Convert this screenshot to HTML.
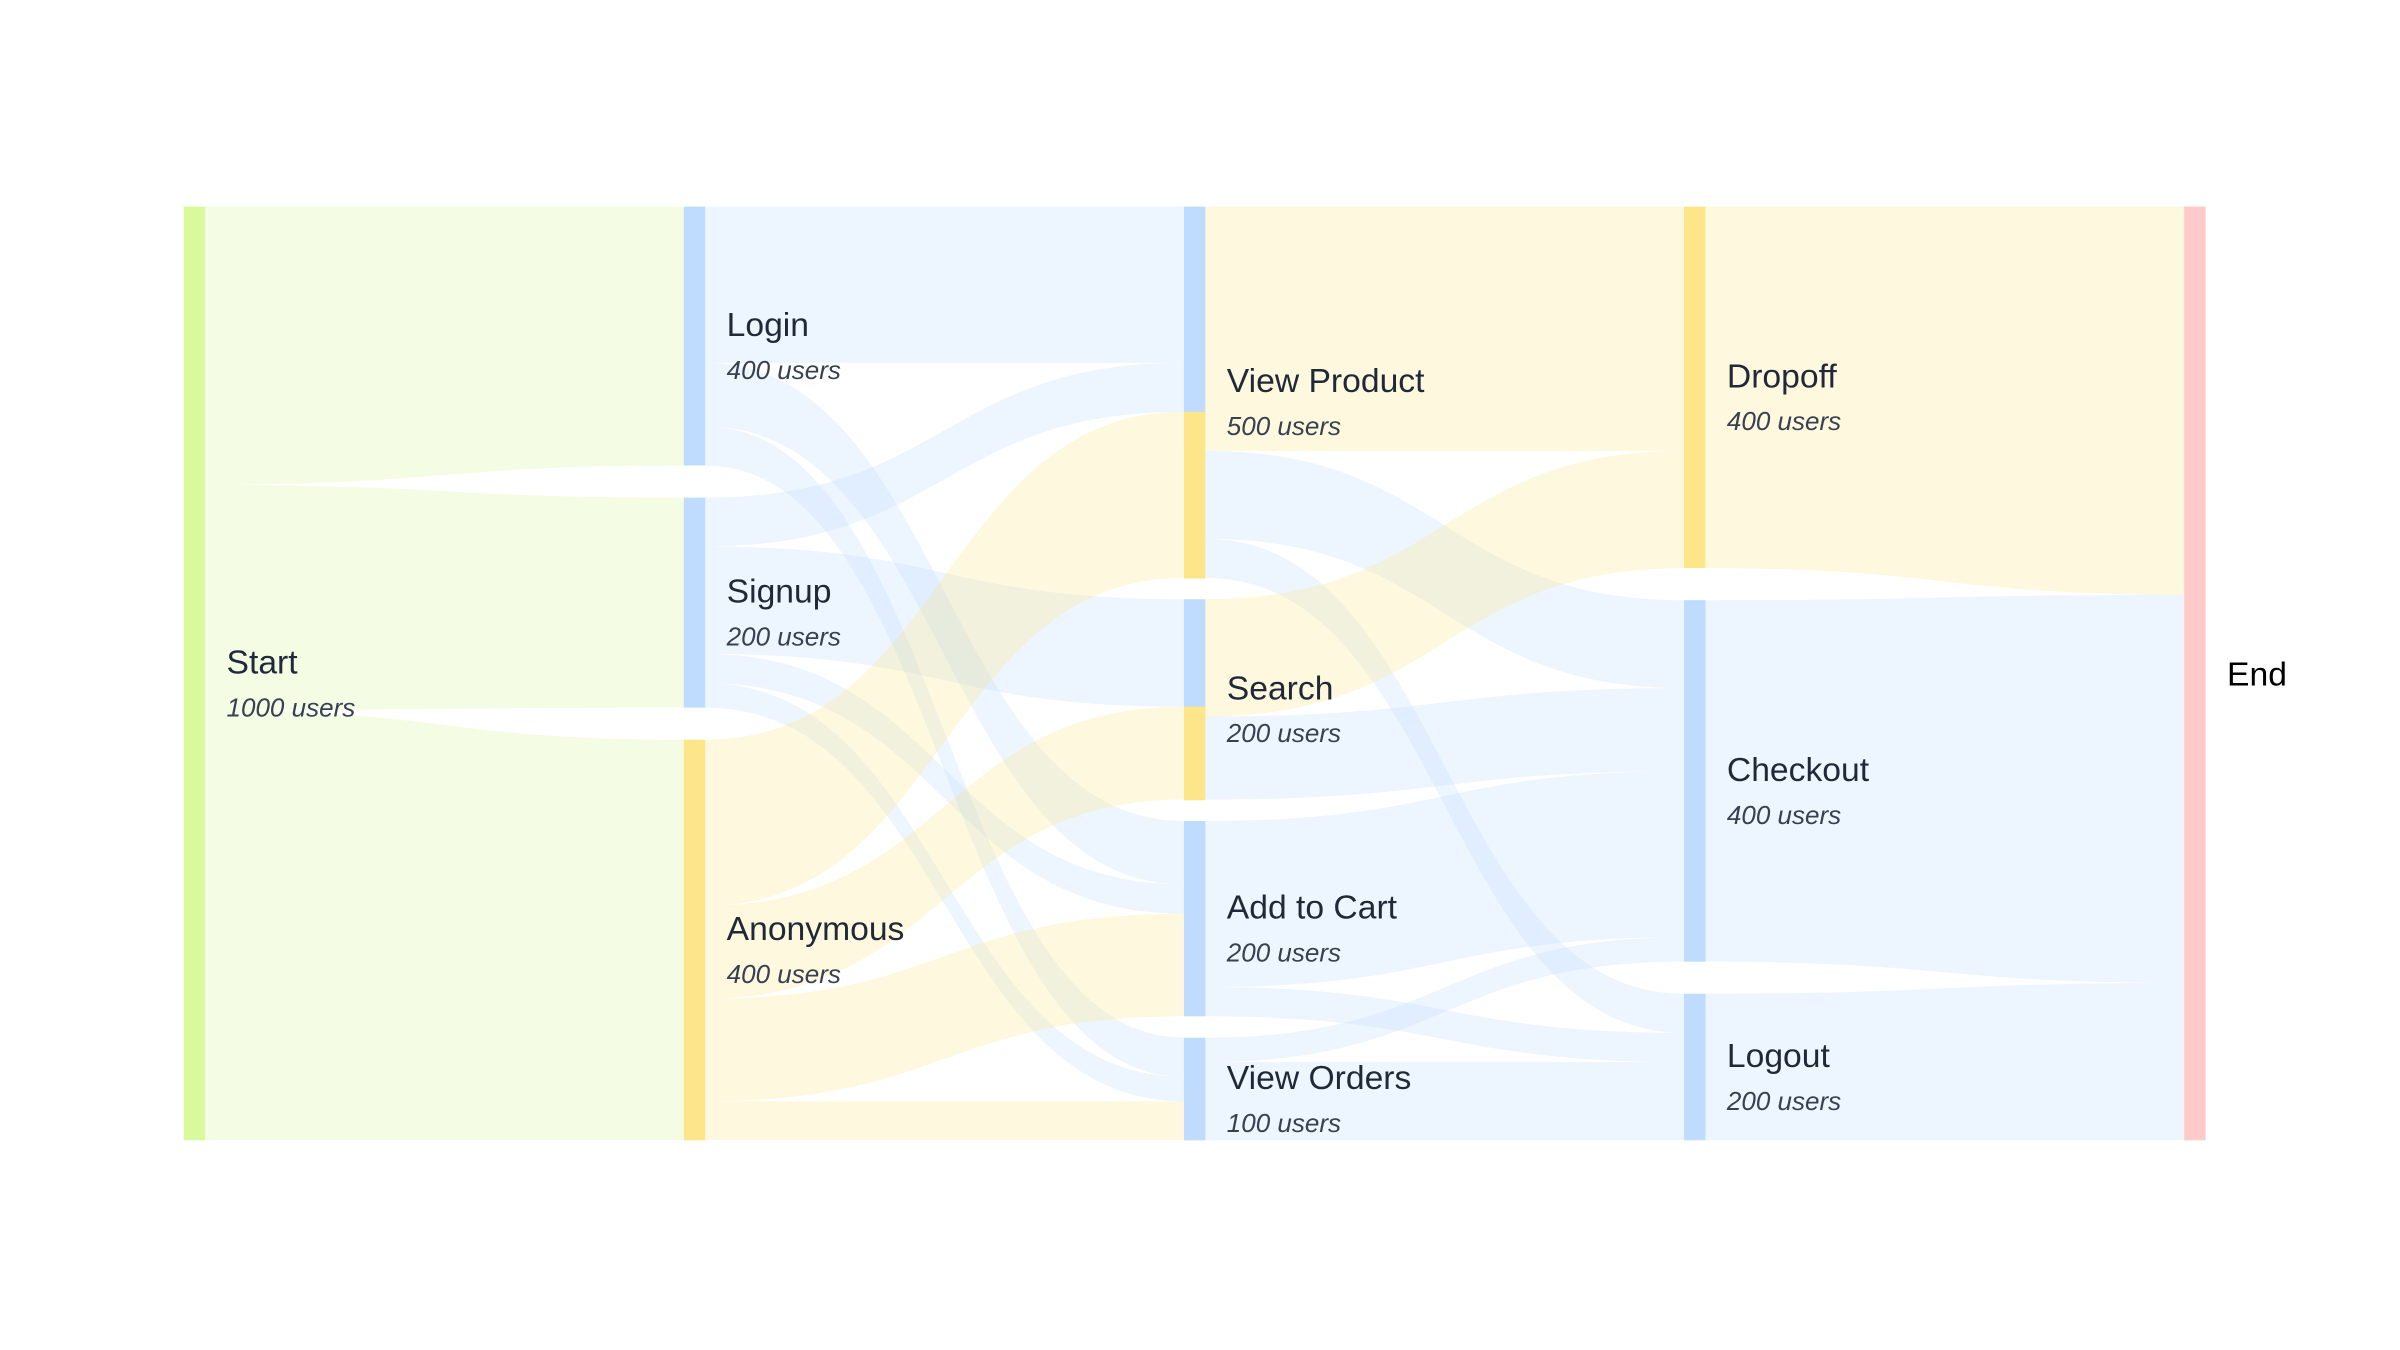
<!DOCTYPE html>
<html><head><meta charset="utf-8">
<style>
html,body{margin:0;padding:0;background:#fff;}
svg{display:block;}
text{font-family:"Liberation Sans",sans-serif;}
</style></head>
<body>
<svg id="chart" width="2400" height="1350" viewBox="0 0 1568 882" xmlns="http://www.w3.org/2000/svg">
<g id="links"></g>
<g id="nodes"></g>
<g id="labels"></g>
</svg>
<script>
const nodeNames = ["Start","Login","Signup","Anonymous","View Product","Search","Add to Cart","View Orders","Dropoff","Checkout","Logout","End"];
const nodeColumns = [0,1,1,1,2,2,2,2,3,3,3,4];
const nodeUsers = [1000,400,200,400,500,200,200,100,400,400,200,null];
const nodeColors = ["#d9f99d","#bfdbfe","#bfdbfe","#fde68a","#bfdbfe","#bfdbfe","#bfdbfe","#bfdbfe","#fde68a","#bfdbfe","#bfdbfe","#fecaca"];
const linkSources = [0,0,0, 1,1,1, 2,2,2,2, 3,3,3,3, 4,4,4, 5,5, 6,6, 7,7, 8,9,10];
const linkTargets = [1,2,3, 4,6,7, 4,5,6,7, 4,5,6,7, 8,9,10, 8,9, 9,10, 10,9, 11,11,11];
const linkValues  = [265,215,410, 160,65,40, 50,110,30,25, 170,95,105,40, 250,90,40, 120,85, 170,30, 80,25, 370,370,150];

const NS="http://www.w3.org/2000/svg";
const colX = c => 120 + c*326.75;
const nodeW = 14, yTop = 135, yBottom = 745, gap = 14;
const N = nodeNames.length;
const inSum = new Array(N).fill(0), outSum = new Array(N).fill(0);
linkValues.forEach((v,i)=>{outSum[linkSources[i]]+=v; inSum[linkTargets[i]]+=v;});
const nodeVal = nodeNames.map((_,i)=>Math.max(inSum[i],outSum[i]));
const cols = [...new Set(nodeColumns)];
let maxTotal=0, maxCount=0;
cols.forEach(c=>{const ids=nodeNames.map((_,i)=>i).filter(i=>nodeColumns[i]===c);
  maxTotal=Math.max(maxTotal, ids.reduce((a,i)=>a+nodeVal[i],0)); maxCount=Math.max(maxCount,ids.length);});
const scale = ((yBottom-yTop) - gap*(maxCount-1))/maxTotal;
const yScale = v => v*scale;
const nodeY = new Array(N), nodeH = new Array(N), stretch = new Array(N).fill(1);
cols.forEach(c=>{
  const ids=nodeNames.map((_,i)=>i).filter(i=>nodeColumns[i]===c);
  const tot=ids.reduce((a,i)=>a+yScale(nodeVal[i]),0);
  if(ids.length===1){
    const i=ids[0]; nodeY[i]=yTop; nodeH[i]=yBottom-yTop; stretch[i]=(yBottom-yTop)/tot; return;
  }
  const g = ((yBottom-yTop)-tot)/(ids.length-1);
  let y = yTop;
  ids.forEach(i=>{nodeY[i]=y; nodeH[i]=yScale(nodeVal[i]); y+=nodeH[i]+g;});
});
const order = linkValues.map((_,i)=>i);
const srcOff = new Array(N).fill(0), tgtOff = new Array(N).fill(0);
const ly0=[], ly1=[], lw0=[], lw1=[];
[...order].sort((a,b)=>linkSources[a]-linkSources[b]||nodeY[linkTargets[a]]-nodeY[linkTargets[b]]).forEach(i=>{
  const s=linkSources[i]; lw0[i]=yScale(linkValues[i])*stretch[s]; ly0[i]=nodeY[s]+srcOff[s]; srcOff[s]+=lw0[i];});
[...order].sort((a,b)=>linkTargets[a]-linkTargets[b]||nodeY[linkSources[a]]-nodeY[linkSources[b]]).forEach(i=>{
  const t=linkTargets[i]; lw1[i]=yScale(linkValues[i])*stretch[t]; ly1[i]=nodeY[t]+tgtOff[t]; tgtOff[t]+=lw1[i];});

const linkG=document.getElementById('links');
order.forEach(i=>{
  const s=linkSources[i], t=linkTargets[i];
  const x0=colX(nodeColumns[s])+nodeW, x1=colX(nodeColumns[t]), xm=(x0+x1)/2;
  const a=ly0[i], b=ly1[i], wa=lw0[i], wb=lw1[i];
  let col = nodeColors[s];
  if(nodeColumns[s]===2) col = nodeColors[t]==="#fde68a" ? "#fde68a" : "#bfdbfe";
  const p=document.createElementNS(NS,'path');
  p.setAttribute('d',`M${x0},${a} C${xm},${a} ${xm},${b} ${x1},${b} L${x1},${b+wb} C${xm},${b+wb} ${xm},${a+wa} ${x0},${a+wa} Z`);
  p.setAttribute('fill',col); p.setAttribute('fill-opacity','0.28');
  
  
  linkG.appendChild(p);
});
const nodeG=document.getElementById('nodes'), labG=document.getElementById('labels');
nodeNames.forEach((nm,i)=>{
  const x=colX(nodeColumns[i]); const slug=nm.toLowerCase().replace(/ /g,'-');
  if(nm==="View Product"||nm==="Search"){
    order.filter(l=>linkTargets[l]===i).forEach(l=>{
      const r=document.createElementNS(NS,'rect');
      r.setAttribute('x',x); r.setAttribute('y',ly1[l]); r.setAttribute('width',nodeW); r.setAttribute('height',lw1[l]+0.5);
      r.setAttribute('fill',nodeColors[linkSources[l]]);
      
      
      nodeG.appendChild(r);
    });
  } else {
    const r=document.createElementNS(NS,'rect');
    r.setAttribute('x',x); r.setAttribute('y',nodeY[i]); r.setAttribute('width',nodeW); r.setAttribute('height',nodeH[i]);
    r.setAttribute('fill',nodeColors[i]);
    
    
    nodeG.appendChild(r);
  }
  const mid=nodeY[i]+nodeH[i]/2;
  const t=document.createElementNS(NS,'text');
  t.setAttribute('x',x+nodeW+14); t.setAttribute('y',nodeUsers[i]===null?mid+8:mid);
  t.setAttribute('font-size','22'); t.setAttribute('fill',nodeUsers[i]===null?'#000':'#1f2937');
  t.textContent=nm;
  
  
  labG.appendChild(t);
  if(nodeUsers[i]!==null){
    const u=document.createElementNS(NS,'text');
    u.setAttribute('x',x+nodeW+14); u.setAttribute('y',mid+28);
    u.setAttribute('font-size','17'); u.setAttribute('font-style','italic'); u.setAttribute('fill','#374151');
    u.textContent=nodeUsers[i]+' users';
    
    
    labG.appendChild(u);
  }
});
</script>
</body></html>
